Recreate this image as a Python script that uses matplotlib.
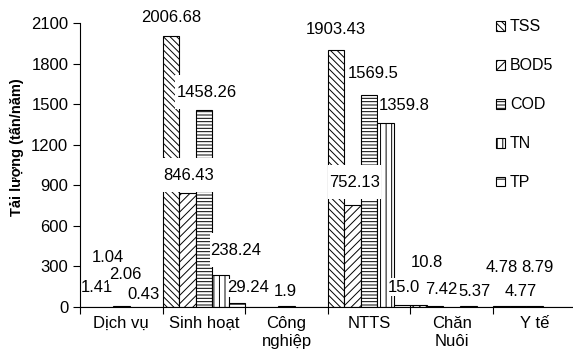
import matplotlib
matplotlib.use("Agg")
import matplotlib.pyplot as plt
from matplotlib.path import Path

plt.rcParams['font.family'] = ['Liberation Sans', 'DejaVu Sans']
plt.rcParams['hatch.linewidth'] = 0.7

categories = ["Dịch vụ", "Sinh hoạt", "Công\nnghiệp", "NTTS", "Chăn\nNuôi", "Y tế"]
series = ["TSS", "BOD5", "COD", "TN", "TP"]

tss = [1.41, 2006.68, 0, 1903.43, 10.8, 4.78]
bod5 = [1.04, 846.43, 0, 752.13, 7.42, 4.77]
cod = [2.06, 1458.26, 1.9, 1569.5, 0, 8.79]
tn = [0.43, 238.24, 0, 1359.8, 5.37, 0]
tp = [0, 29.24, 0, 15.0, 0, 0]
values = [tss, bod5, cod, tn, tp]
label_text = {(4, 3): "15.0"}

hatches = ["\\\\\\\\\\", "////", "-----", "|||", "--"]

# data label spots (x in category units, y in t/yr), keyed (series, category)
label_pos = {
    (0, 0): (0.21, 139), (1, 0): (0.34, 368), (2, 0): (0.55, 235), (3, 0): (0.77, 94),
    (0, 1): (1.10, 2140), (1, 1): (1.31, 976), (2, 1): (1.53, 1591),
    (3, 1): (1.89, 420), (4, 1): (2.03, 139),
    (2, 2): (2.49, 109),
    (0, 3): (3.10, 2051), (1, 3): (3.32, 924), (2, 3): (3.55, 1732),
    (3, 3): (3.92, 1494), (4, 3): (3.92, 146),
    (0, 4): (4.20, 331), (1, 4): (4.37, 124), (3, 4): (4.78, 109),
    (0, 5): (5.11, 294), (1, 5): (5.33, 109), (2, 5): (5.54, 294),
}


def make_box(py):
    # narrow sides, taller top/bottom like the spreadsheet labels
    def box(x0, y0, width, height, mutation_size):
        px = 0.05 * mutation_size
        dy = py * mutation_size
        xa, xb = x0 - px, x0 + width + px
        ya, yb = y0 - dy, y0 + height + dy
        return Path([(xa, ya), (xb, ya), (xb, yb), (xa, yb), (xa, ya)], closed=True)
    return box


fig = plt.figure(figsize=(5.73, 3.54), dpi=100)
ax = fig.add_axes([0.1396, 0.1336, 0.865, 0.8004])

nser = len(series)
w = 1.0 / nser
for j, (name, vals) in enumerate(zip(series, values)):
    xs = [i + (j + 0.5) * w for i in range(len(categories))]
    ax.bar(xs, vals, width=w, color="white", edgecolor="black",
           linewidth=0.8, hatch=hatches[j], label=name, zorder=2)

for (j, i), (lx, ly) in label_pos.items():
    v = values[j][i]
    txt = label_text.get((j, i), f"{v:g}")
    py = 0.55 if v > 100 else 0.1
    ax.text(lx, ly, txt, ha="center", va="center", fontsize=12, zorder=4,
            bbox=dict(boxstyle=make_box(py), fc="white", ec="none"))

ax.set_xlim(0, 6)
ax.set_ylim(0, 2100)
ax.set_yticks(range(0, 2101, 300))
ax.set_xticks(range(0, 7))
ax.set_xticklabels([])
ax.set_xticks([i + 0.5 for i in range(6)], minor=True)
ax.set_xticklabels(categories, minor=True, linespacing=1.25)
ax.tick_params(axis="x", which="major", direction="out", length=5, width=0.8)
ax.tick_params(axis="x", which="minor", length=0, pad=6.5, labelsize=12)
ax.tick_params(axis="y", direction="out", length=5, width=0.8, pad=3.4, labelsize=12)

for s in ["top", "right"]:
    ax.spines[s].set_visible(False)
for s in ["left", "bottom"]:
    ax.spines[s].set_linewidth(0.8)
    ax.spines[s].set_zorder(5)

fig.text(0.03, 0.585, "Tải lượng (tấn/năm)", rotation=90, ha="center", va="center",
         fontsize=10.5, fontweight="bold")

fig.legend(loc="upper left", bbox_to_anchor=(0.866, 0.945), frameon=False,
           fontsize=11.5, handlelength=0.55, handleheight=0.55, handletextpad=0.3,
           labelspacing=1.5, borderpad=0, borderaxespad=0)

fig.savefig("out.png", dpi=100)
